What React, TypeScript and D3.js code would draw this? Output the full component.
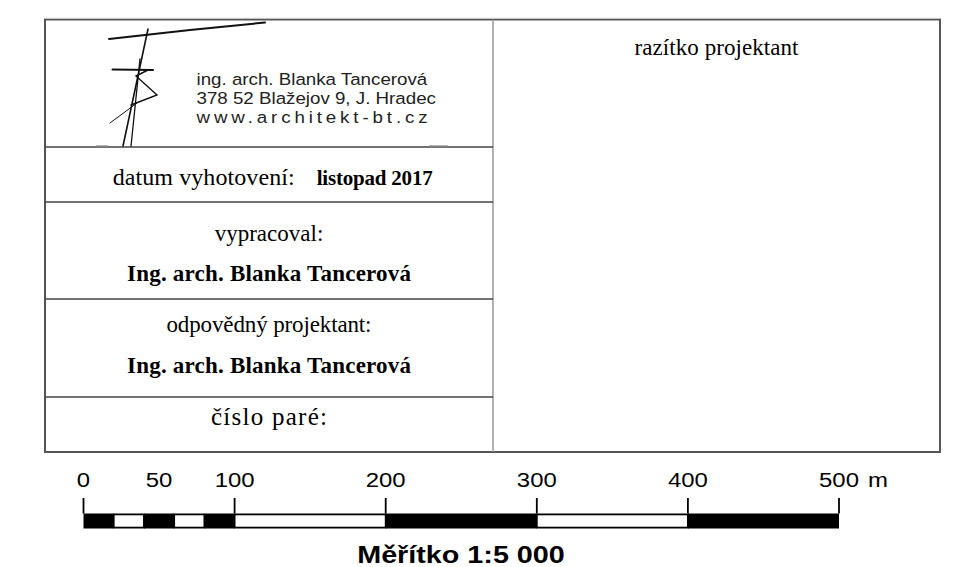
import React from "react";
import * as d3 from "d3";

// scale bar data (metres)
const scaleTicks = [0, 100, 200, 300, 400, 500];
const scaleLabels = [0, 50, 100, 200, 300, 400, 500];
const scaleBreaks = [0, 20, 40, 60, 80, 100, 200, 300, 400, 500];
const scaleUnit = "m";
const scaleTitle = "Měřítko 1:5 000";

// title block texts
const officeLines = ["ing. arch. Blanka Tancerová", "378 52 Blažejov 9, J. Hradec", "www.architekt-bt.cz"];
const dateLabel = "datum vyhotovení:";
const dateValue = "listopad 2017";
const authorLabel = "vypracoval:";
const authorName = "Ing. arch. Blanka Tancerová";
const respLabel = "odpovědný projektant:";
const respName = "Ing. arch. Blanka Tancerová";
const copyLabel = "číslo paré:";
const stampLabel = "razítko projektant";

const W = 968;
const H = 567;
const serif = "'Liberation Serif', 'Times New Roman', serif";
const sans = "'Liberation Sans', Arial, sans-serif";

// sans texts in the source are wider than Arial -> stretch them sideways
const at = (x: number, y: number, sx: number) => `translate(${x},${y}) scale(${sx},1)`;

export default function App() {
  const left = 45, right = 940, top = 19.5, bottom = 452, mid = 493;
  const rowY = [147, 202, 299, 397];
  const cx = (left + mid) / 2;
  const frame = "#555";

  const x = d3.scaleLinear().domain([0, 500]).range([83.5, 839]);
  const barTop = 513.5, barBottom = 528.5;
  const segs = d3.pairs(scaleBreaks).map(([a, b], i) => ({ a, b, black: i % 2 === 0 }));
  const sxSans = 1.15;

  const logo = d3.line().curve(d3.curveLinear);

  return (
    <svg width={W} height={H} style={{ position: "absolute", left: 0, top: 0, background: "#fff" }}>
      {/* frame */}
      <rect x={left} y={top} width={right - left} height={bottom - top} fill="none" stroke={frame} strokeWidth={2} />
      <line x1={left} x2={right} y1={top - 1.2} y2={top - 1.2} stroke="#ccc" strokeWidth={1} />
      <line x1={mid} x2={mid} y1={top} y2={bottom} stroke="#999" strokeWidth={1.5} />
      {rowY.map((y) => (
        <line key={y} x1={left} x2={mid} y1={y} y2={y} stroke="#444" strokeWidth={1.5} />
      ))}

      {/* logo */}
      <g fill="none" stroke="#111" strokeLinecap="round">
        <path d={logo([[109, 39], [190, 30], [265, 22.5]])!} strokeWidth={2} />
        <path d={logo([[148, 29], [123, 146]])!} strokeWidth={1.6} />
        <path d={logo([[140, 59], [131, 146]])!} strokeWidth={1.3} />
        <path d={logo([[112.5, 69.5], [153, 70]])!} strokeWidth={2} />
        <path d={logo([[148, 70], [136, 76], [157, 95], [131, 105]])!} strokeWidth={1.4} />
        <path d={logo([[110, 123], [137, 103]])!} strokeWidth={1} />
      </g>
      <line x1={96} x2={108} y1={146} y2={146} stroke="#888" strokeWidth={1.2} />
      <line x1={429} x2={448} y1={146} y2={146} stroke="#888" strokeWidth={1.2} />

      <g fontFamily={sans} fontSize={16.3} fill="#222">
        <text transform={at(196.5, 84.5, sxSans)}>{officeLines[0]}</text>
        <text transform={at(196.5, 104, sxSans)}>{officeLines[1]}</text>
        <text transform={at(196.5, 123, sxSans)} textLength={201} lengthAdjust="spacing">{officeLines[2]}</text>
      </g>

      {/* rows */}
      <g fontFamily={serif} fill="#000" fontSize={23}>
        <text x={112.7} y={185} fontSize={24} textLength={182}>{dateLabel}</text>
        <text x={316.7} y={185} fontSize={21} fontWeight="bold" textLength={116}>{dateValue}</text>
        <text x={cx} y={240.5} textAnchor="middle">{authorLabel}</text>
        <text x={cx} y={280.5} fontWeight="bold" textAnchor="middle" textLength={284}>{authorName}</text>
        <text x={cx} y={332} textAnchor="middle" textLength={205}>{respLabel}</text>
        <text x={cx} y={373} fontWeight="bold" textAnchor="middle" textLength={284}>{respName}</text>
        <text x={cx} y={425} fontSize={25} textAnchor="middle" textLength={116}>{copyLabel}</text>
        <text x={(mid + right) / 2} y={54.5} textAnchor="middle" textLength={164}>{stampLabel}</text>
      </g>

      {/* scale bar */}
      <g>
        {segs.map((s) => (
          <rect
            key={s.a}
            x={x(s.a)}
            y={s.black ? barTop : barTop + 0.9}
            width={x(s.b) - x(s.a)}
            height={s.black ? barBottom - barTop : barBottom - barTop - 1.8}
            fill={s.black ? "#000" : "#fff"}
            stroke={s.black ? "none" : "#000"}
            strokeWidth={1.8}
          />
        ))}
        {scaleTicks.map((t) => (
          <line key={t} x1={x(t)} x2={x(t)} y1={498} y2={barTop} stroke="#000" strokeWidth={1.8} />
        ))}
        <g fontFamily={sans} fontSize={21} fill="#000" textAnchor="middle">
          {scaleLabels.map((t) => (
            <text key={t} transform={at(x(t), 487, 1.14)}>{t}</text>
          ))}
          <text transform={at(878, 487, 1.14)}>{scaleUnit}</text>
        </g>
        <text transform={at(461, 563, 1.25)} fontFamily={sans} fontSize={23} fontWeight="bold" fill="#000" textAnchor="middle">
          {scaleTitle}
        </text>
      </g>
    </svg>
  );
}
